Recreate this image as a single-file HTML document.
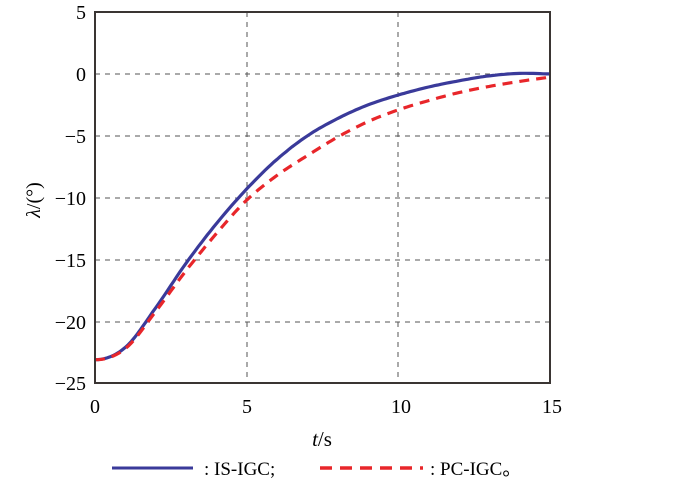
<!DOCTYPE html>
<html><head><meta charset="utf-8"><style>
html,body{margin:0;padding:0;background:#fff;}
svg text{font-family:"Liberation Serif",serif;fill:#000;}
</style></head><body>
<svg id="s" width="700" height="488" xmlns="http://www.w3.org/2000/svg">
<g stroke="#555" stroke-width="1" stroke-dasharray="5,5" fill="none">
<line x1="95" y1="74" x2="550" y2="74"/><line x1="95" y1="136" x2="550" y2="136"/>
<line x1="95" y1="198" x2="550" y2="198"/><line x1="95" y1="260" x2="550" y2="260"/>
<line x1="95" y1="322" x2="550" y2="322"/>
<line x1="247" y1="12" x2="247" y2="383"/><line x1="398" y1="12" x2="398" y2="383"/>
</g>
<path id="is" fill="none" stroke="#3a3a9a" stroke-width="3.2"/>
<path id="pc" fill="none" stroke="#e8262a" stroke-width="3.2" stroke-dasharray="10,7"/>
<rect x="95" y="12" width="455" height="371" fill="none" stroke="#3a3533" stroke-width="2"/>
<g font-size="20" text-anchor="end">
<text x="86" y="19">5</text><text x="86" y="81">0</text><text x="86" y="143">−5</text>
<text x="86" y="205">−10</text><text x="86" y="267">−15</text><text x="86" y="329">−20</text><text x="86" y="390">−25</text>
</g>
<g font-size="20" text-anchor="middle">
<text x="95" y="413">0</text><text x="247" y="413">5</text><text x="401" y="413">10</text><text x="552" y="413">15</text>
<text x="322" y="446" font-size="21"><tspan font-style="italic">t</tspan>/s</text>
</g>
<text font-size="20" transform="translate(40,200) rotate(-90)" text-anchor="middle"><tspan font-style="italic">λ</tspan>/(°)</text>
<line x1="112" y1="468" x2="193" y2="468" stroke="#3a3a9a" stroke-width="3"/>
<text x="204" y="475" font-size="19">: IS-IGC;</text>
<line x1="320" y1="468" x2="423" y2="468" stroke="#e8262a" stroke-width="3.5" stroke-dasharray="12,8"/>
<text x="430" y="475" font-size="19">: PC-IGC。</text>
</svg>
<script>
function X(t){return 95+t*30.33;}function Y(v){return 74-v*12.37;}
function cr(v){var p=v.map(function(y,i){return [i,y];});
var d="M"+X(p[0][0]).toFixed(1)+","+Y(p[0][1]).toFixed(1);
for(var i=0;i<p.length-1;i++){var p0=p[Math.max(0,i-1)],p1=p[i],p2=p[i+1],p3=p[Math.min(p.length-1,i+2)];
if(i==0){p0=[-1,p2[1]];}
for(var k=1;k<=10;k++){var s=k/10,s2=s*s,s3=s2*s;
function f(a,b,c,e){return 0.5*(2*b+(-a+c)*s+(2*a-5*b+4*c-e)*s2+(-a+3*b-3*c+e)*s3);}
d+=" L"+X(f(p0[0],p1[0],p2[0],p3[0])).toFixed(1)+","+Y(f(p0[1],p1[1],p2[1],p3[1])).toFixed(1);}}return d;}
document.getElementById("is").setAttribute("d",cr([-23.1,-22.1,-18.9,-15.3,-12.1,-9.3,-6.9,-5.0,-3.6,-2.5,-1.7,-1.05,-0.55,-0.15,0.05,0]));
document.getElementById("pc").setAttribute("d",cr([-23.1,-22.2,-19.2,-15.9,-12.9,-10.2,-8.2,-6.6,-5.1,-3.85,-2.9,-2.15,-1.5,-1.0,-0.6,-0.25]));
</script>
</body></html>
